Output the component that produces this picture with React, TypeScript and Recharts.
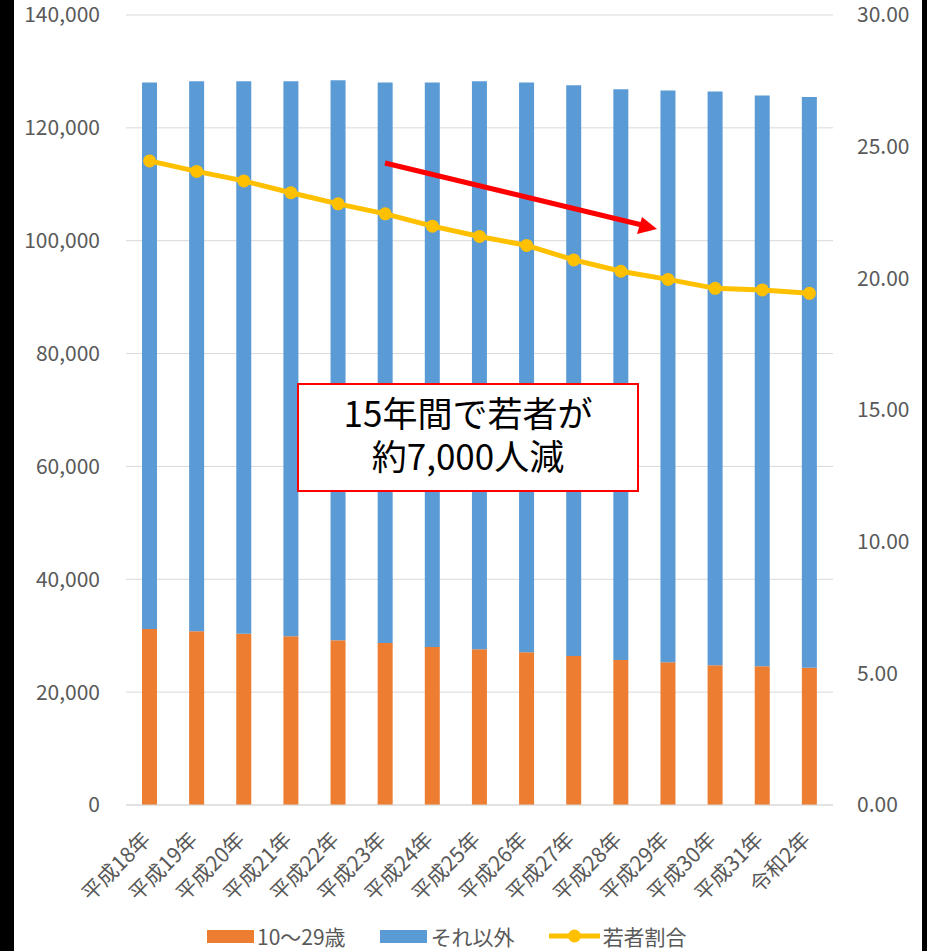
import {
  ComposedChart,
  Bar,
  Line,
  XAxis,
  YAxis,
  CartesianGrid,
  Legend,
} from "recharts";

const categories = [
  "平成18年",
  "平成19年",
  "平成20年",
  "平成21年",
  "平成22年",
  "平成23年",
  "平成24年",
  "平成25年",
  "平成26年",
  "平成27年",
  "平成28年",
  "平成29年",
  "平成30年",
  "平成31年",
  "令和2年",
];
const youth = [
  31190, 30780, 30350, 29890, 29180, 28710, 28000, 27590, 27060, 26400, 25690,
  25290, 24750, 24580, 24330,
];
const others = [
  96830, 97470, 97900, 98360, 99250, 99310, 100020, 100660, 100960, 101140,
  101150, 101310, 101680, 101140, 101140,
];
const youthRatio = [
  24.46, 24.06, 23.7, 23.25, 22.83, 22.45, 21.98, 21.59, 21.25, 20.7, 20.27,
  19.96, 19.62, 19.56, 19.43,
];
const leftTicks = [0, 20000, 40000, 60000, 80000, 100000, 120000, 140000];
const rightTicks = [0, 5, 10, 15, 20, 25, 30];

const FONT = '"Noto Sans CJK JP", "Noto Sans", sans-serif';
const GRAY = "#595959";
const ORANGE = "#ED7D31";
const BLUE = "#5B9BD5";
const YELLOW = "#FFC000";

const data = categories.map((name, i) => ({
  name,
  youth: youth[i],
  others: others[i],
  ratio: youthRatio[i],
}));

const XTick = ({ x, y, payload }: any) => (
  <g transform={`translate(${x - 3},${y})`}>
    <text
      textAnchor="end"
      dy="0.35em"
      transform="rotate(-45)"
      fill={GRAY}
      fontSize={21}
      fontFamily={FONT}
    >
      {payload.value}
    </text>
  </g>
);

const LegendContent = () => {
  const item = { display: "flex", alignItems: "center", marginRight: 34 };
  return (
    <div
      style={{
        display: "flex",
        alignItems: "center",
        paddingLeft: 193,
        fontFamily: FONT,
        fontSize: 21,
        color: GRAY,
        height: 30,
      }}
    >
      <div style={item}>
        <span style={{ width: 47, height: 13, background: ORANGE, marginRight: 3 }} />
        10～29歳
      </div>
      <div style={item}>
        <span style={{ width: 47, height: 13, background: BLUE, marginRight: 4 }} />
        それ以外
      </div>
      <div style={item}>
        <svg width={51} height={14} style={{ marginRight: 3 }}>
          <line x1={0} y1={7} x2={51} y2={7} stroke={YELLOW} strokeWidth={5} />
          <circle cx={25.5} cy={7} r={6.5} fill={YELLOW} />
        </svg>
        若者割合
      </div>
    </div>
  );
};

export default function App() {
  return (
    <div
      style={{
        position: "absolute",
        left: 0,
        top: 0,
        width: 927,
        height: 951,
        background: "#000",
      }}
    >
      <div
        style={{
          position: "absolute",
          left: 14,
          top: 0,
          width: 908,
          height: 951,
          background: "#fff",
        }}
      >
        <ComposedChart
          width={908}
          height={951}
          data={data}
          margin={{ top: 15, right: 0, left: 0, bottom: 0 }}
          barGap={0}
        >
          <CartesianGrid vertical={false} stroke="#D9D9D9" yAxisId="left" />
          <XAxis
            dataKey="name"
            height={116}
            tick={<XTick />}
            tickLine={false}
            tickSize={0}
            tickMargin={31}
            axisLine={{ stroke: "#D9D9D9" }}
            interval={0}
          />
          <YAxis
            yAxisId="left"
            width={112}
            domain={[0, 140000]}
            ticks={leftTicks}
            axisLine={false}
            tickLine={false}
            tickSize={0}
            tickMargin={26}
            tick={{ fill: GRAY, fontSize: 21, fontFamily: FONT }}
            tickFormatter={(v: number) => v.toLocaleString("en-US")}
          />
          <YAxis
            yAxisId="right"
            orientation="right"
            width={89}
            domain={[0, 30]}
            ticks={rightTicks}
            axisLine={false}
            tickLine={false}
            tickSize={0}
            tickMargin={24}
            tick={{ fill: GRAY, fontSize: 21, fontFamily: FONT }}
            tickFormatter={(v: number) => v.toFixed(2)}
          />
          <Legend verticalAlign="bottom" height={30} content={<LegendContent />} />
          <Bar
            yAxisId="left"
            dataKey="youth"
            name="10～29歳"
            stackId="a"
            fill={ORANGE}
            barSize={15}
            isAnimationActive={false}
          />
          <Bar
            yAxisId="left"
            dataKey="others"
            name="それ以外"
            stackId="a"
            fill={BLUE}
            barSize={15}
            isAnimationActive={false}
          />
          <Line
            yAxisId="right"
            dataKey="ratio"
            name="若者割合"
            stroke={YELLOW}
            strokeWidth={5}
            dot={{ r: 6.5, fill: YELLOW, stroke: YELLOW, strokeWidth: 0 }}
            isAnimationActive={false}
          />
        </ComposedChart>
      </div>

      {/* red arrow annotation */}
      <svg
        width={927}
        height={951}
        style={{ position: "absolute", left: 0, top: 0, pointerEvents: "none" }}
      >
        <line x1={385} y1={163} x2={642} y2={225} stroke="#FF0000" strokeWidth={5} />
        <polygon points="657,229 637,234 642,217" fill="#FF0000" />
      </svg>

      {/* text box annotation */}
      <div
        style={{
          position: "absolute",
          left: 297,
          top: 383,
          width: 342,
          height: 109,
          boxSizing: "border-box",
          border: "2px solid #FF0000",
          background: "#fff",
          display: "flex",
          flexDirection: "column",
          alignItems: "center",
          justifyContent: "center",
          paddingBottom: 10,
          fontFamily: FONT,
          fontSize: 35,
          lineHeight: "43px",
          color: "#000",
        }}
      >
        <div>15年間で若者が</div>
        <div>約7,000人減</div>
      </div>
    </div>
  );
}
